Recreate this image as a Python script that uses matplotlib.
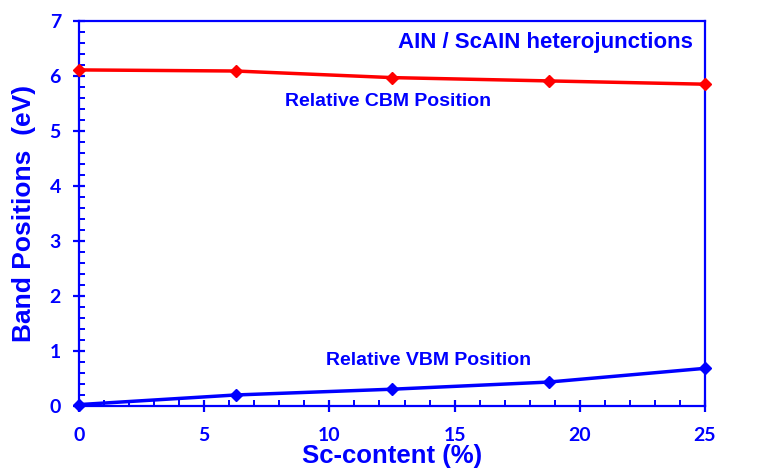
import matplotlib
matplotlib.use('Agg')
from matplotlib import pyplot as plt
from matplotlib.ticker import MultipleLocator

# Datos
sc_content = [0, 6.25, 12.5, 18.75, 25]
cbm = [6.11, 6.09, 5.97, 5.91, 5.85]
vbm = [0.02, 0.195, 0.30, 0.43, 0.68]

BLUE = '#0000ff'
RED = '#ff0000'

plt.rcParams['font.family'] = ['Liberation Sans', 'DejaVu Sans']

fig = plt.figure(figsize=(7.57, 4.73), dpi=100)
ax = fig.add_axes([79 / 757, 1 - 405.7 / 473, (705 - 79) / 757, (405.7 - 21) / 473])

ax.plot(sc_content, cbm, color=RED, lw=2.5, marker='D', ms=6.5, clip_on=False, zorder=3)
ax.plot(sc_content, vbm, color=BLUE, lw=2.5, marker='D', ms=6.5, clip_on=False, zorder=3)

ax.set_xlim(0, 25)
ax.set_ylim(0, 7)
ax.xaxis.set_major_locator(MultipleLocator(5))
ax.xaxis.set_minor_locator(MultipleLocator(1))
ax.yaxis.set_major_locator(MultipleLocator(1))
ax.yaxis.set_minor_locator(MultipleLocator(0.2))

for s in ax.spines.values():
    s.set_color(BLUE)
    s.set_linewidth(1.6)

ax.tick_params(which='major', direction='inout', length=8, width=1.6, color=BLUE,
               labelcolor=BLUE, labelsize=14, pad=9)
ax.tick_params(which='minor', direction='in', length=4, width=1.4, color=BLUE)
ax.tick_params(axis='x', which='major', pad=11)
for lab in ax.get_xticklabels() + ax.get_yticklabels():
    lab.set_fontweight('bold')
    lab.set_family(['Lato', 'DejaVu Sans'])

ax.set_xlabel('Sc-content (%)', fontsize=18.5, fontweight='bold', color=BLUE, labelpad=0)
ax.set_ylabel('Band Positions  (eV)', fontsize=19, fontweight='bold', color=BLUE, labelpad=10)

ax.text(0.98, 0.945, 'AIN / ScAIN heterojunctions', transform=ax.transAxes, ha='right', va='center',
        fontsize=16, fontweight='bold', color=BLUE)
ax.text(0.329, 0.79, 'Relative CBM Position', transform=ax.transAxes, ha='left', va='center',
        fontsize=14, fontweight='bold', color=BLUE)
ax.text(0.395, 0.117, 'Relative VBM Position', transform=ax.transAxes, ha='left', va='center',
        fontsize=14, fontweight='bold', color=BLUE)

fig.savefig('out.png', dpi=100)
